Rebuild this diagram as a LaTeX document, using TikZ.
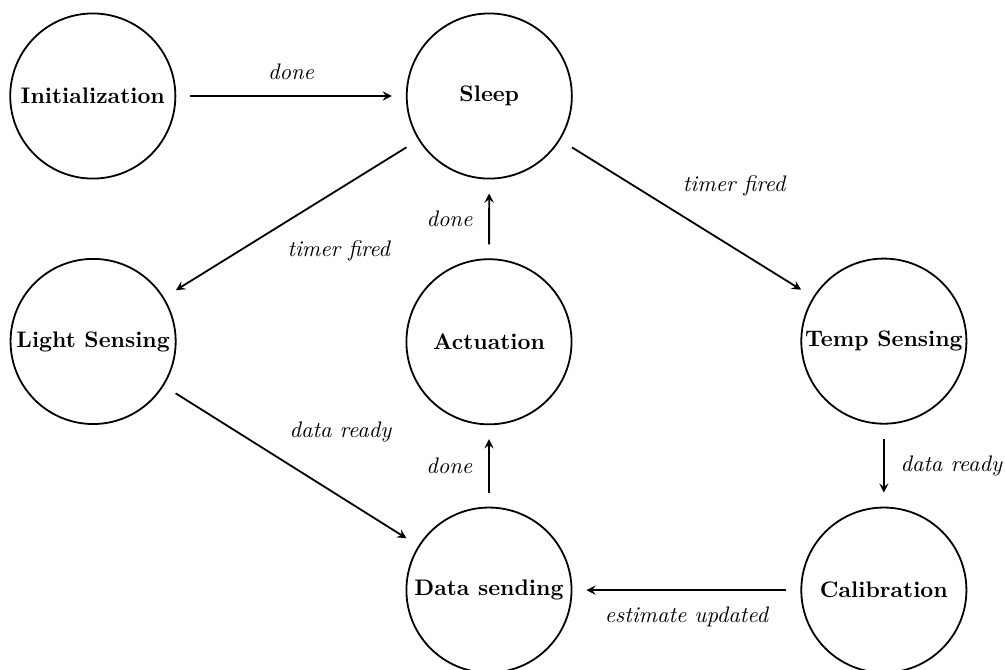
\documentclass[tikz,border=0pt]{standalone}
\usepackage{amsmath}
\usepackage{tikz}
\usetikzlibrary{automata, positioning, arrows.meta}

\tikzset{every state/.style={draw, thick, minimum size=2.58cm, inner sep=1pt, font=\bfseries}}

\begin{document}
\begin{tikzpicture}[->, >=stealth, shorten >=6.2pt, shorten <=6.2pt, auto, thick,
                      lbl/.style={inner sep=7pt, font=\itshape}, diag/.style={inner sep=0pt, font=\itshape}]
    \useasboundingbox (0,0) rectangle (15.703,-10.453);
    \node[state] (init) at (1.45,-1.5) {Initialization};
    \node[state] (sleep) at (7.645,-1.5) {Sleep};
    \node[state] (light) at (1.455,-5.335) {Light Sensing};
    \node[state] (act) at (7.64,-5.34) {Actuation};
    \node[state] (temp) at (13.81,-5.33) {Temp Sensing};
    \node[state] (send) at (7.64,-9.22) {Data sending};
    \node[state] (calib) at (13.81,-9.22) {Calibration};
    \path
      (init) edge node[lbl] {done} (sleep)
      (sleep) edge node[diag, anchor=north west, xshift=-2pt, yshift=-9.5pt] {timer fired} (light)
      (sleep) edge node[diag, anchor=south west, xshift=-2pt, yshift=9.5pt] {timer fired} (temp)
      (act) edge node[lbl] {done} (sleep)
      (light) edge node[diag, anchor=south west, xshift=-1pt, yshift=10pt] {data ready} (send)
      (send) edge node[lbl] {done} (act)
      (temp) edge node[lbl] {data ready} (calib)
      (calib) edge node[lbl] {estimate updated} (send);
  \end{tikzpicture}
\end{document}
